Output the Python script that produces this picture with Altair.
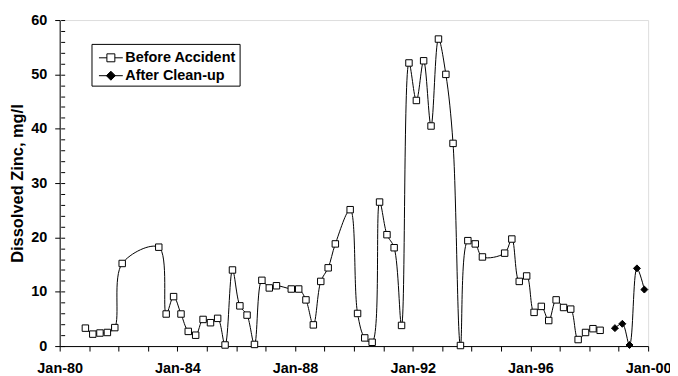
import altair as alt
import pandas as pd

# ---- data ----
before_dates = [
    "1980-11-15", "1981-02-15", "1981-05-15", "1981-08-15", "1981-11-15",
    "1982-02-15", "1983-05-15", "1983-08-15", "1983-11-15", "1984-02-15",
    "1984-05-15", "1984-08-15", "1984-11-15", "1985-02-15", "1985-05-15",
    "1985-08-15", "1985-11-15", "1986-02-15", "1986-05-15", "1986-08-15",
    "1986-11-15", "1987-02-15", "1987-05-15", "1987-11-15", "1988-02-15",
    "1988-05-15", "1988-08-15", "1988-11-15", "1989-02-15", "1989-05-15",
    "1989-11-15", "1990-02-15", "1990-05-15", "1990-08-15", "1990-11-15",
    "1991-02-15", "1991-05-15", "1991-08-15", "1991-11-15", "1992-02-15",
    "1992-05-15", "1992-08-15", "1992-11-15", "1993-02-15", "1993-05-15",
    "1993-08-15", "1993-11-15", "1994-02-15", "1994-05-15", "1995-02-15",
    "1995-05-15", "1995-08-15", "1995-11-15", "1996-02-15", "1996-05-15",
    "1996-08-15", "1996-11-15", "1997-02-15", "1997-05-15", "1997-08-15",
    "1997-11-15", "1998-02-15", "1998-05-15",
]
before_vals = [
    3.3, 2.2, 2.4, 2.5, 3.4,
    15.2, 18.2, 5.9, 9.1, 5.9,
    2.7, 2.0, 4.9, 4.3, 5.1,
    0.2, 14.0, 7.4, 5.7, 0.3,
    12.1, 10.7, 11.1, 10.5, 10.5,
    8.5, 3.9, 11.9, 14.4, 18.8,
    25.1, 6.0, 1.5, 0.7, 26.5,
    20.5, 18.1, 3.8, 52.1, 45.2,
    52.5, 40.5, 56.5, 50.0, 37.3,
    0.1, 19.4, 18.8, 16.4, 17.1,
    19.7, 11.9, 12.9, 6.2, 7.3,
    4.7, 8.5, 7.1, 6.8, 1.2,
    2.5, 3.2, 2.9,
]
after_dates = ["1998-11-15", "1999-02-15", "1999-05-15", "1999-08-15", "1999-11-15"]
after_vals = [3.3, 4.1, 0.2, 14.3, 10.4]

series_names = ["Before Accident", "After Clean-up"]
y_major = [0, 10, 20, 30, 40, 50, 60]
y_minor = list(range(0, 61, 2))
x_years = list(range(1980, 2001))

df = pd.DataFrame({
    "date": before_dates + after_dates,
    "zinc": before_vals + after_vals,
    "series": [series_names[0]] * len(before_dates) + [series_names[1]] * len(after_dates),
})

FONT = "Liberation Sans"
x_domain = [alt.DateTime(year=1980, month=1, date=1, utc=True),
            alt.DateTime(year=2000, month=1, date=1, utc=True)]
x_values = [alt.DateTime(year=y, month=1, date=1, utc=True) for y in x_years]

x_enc = alt.X(
    "date:T",
    scale=alt.Scale(type="utc", domain=x_domain, nice=False),
    axis=alt.Axis(
        values=x_values,
        labelExpr="utcyear(datum.value) % 4 === 0 ? utcFormat(datum.value, '%b-%y') : ''",
        title=None, grid=False, tickSize=5, tickColor="black", domainColor="black",
        labelFont=FONT, labelFontSize=14.5, labelFontWeight="bold", labelColor="black",
        labelPadding=11, labelOverlap=False, labelFlush=False,
    ),
)

y_scale = alt.Scale(domain=[0, 60], nice=False)

# legend symbols: a short line with the marker in its middle
before_path = ("M-0.619,0L0.143,0M0.905,0L1.667,0"
               "M0.143,-0.381L0.905,-0.381L0.905,0.381L0.143,0.381Z")
after_path = "M-0.619,0L1.667,0M0.524,-0.43L0.954,0L0.524,0.43L0.094,0Z"

lines = alt.Chart(df).mark_line(interpolate="catmull-rom", color="black", strokeWidth=1).encode(
    x=x_enc,
    y=alt.Y("zinc:Q", scale=y_scale, axis=alt.Axis(
        values=y_major, orient="left", title="Dissolved Zinc, mg/l", grid=False,
        tickSize=5, tickColor="black", domainColor="black",
        labelFont=FONT, labelFontSize=14.5, labelFontWeight="bold", labelColor="black",
        labelPadding=8, titleFont=FONT, titleFontSize=16.5, titleFontWeight="bold",
        titleColor="black", titlePadding=5,
    )),
    detail="series:N",
)

points = alt.Chart(df).mark_point(filled=False, stroke="black", strokeWidth=1, opacity=1).encode(
    x=x_enc,
    y=alt.Y("zinc:Q", scale=y_scale, axis=alt.Axis(
        values=y_minor, orient="left", offset=-5, tickSize=4, tickColor="black",
        domain=False, labels=False, title=None, grid=False,
    )),
    shape=alt.Shape("series:N", scale=alt.Scale(domain=series_names, range=["square", "diamond"]), legend=None),
    size=alt.Size("series:N", scale=alt.Scale(domain=series_names, range=[42, 49]), legend=None),
    fill=alt.Fill("series:N", scale=alt.Scale(domain=series_names, range=["white", "black"]), legend=None),
)

legend_props = dict(
    title=None, orient="none", legendX=32, legendY=24, direction="vertical",
    fillColor="white", strokeColor="black", padding=3, rowPadding=0,
    labelFont=FONT, labelFontSize=14.5, labelFontWeight="bold", labelColor="black",
    labelOffset=9, symbolSize=441, symbolStrokeColor="black", symbolStrokeWidth=1,
    symbolOpacity=1,
)

# legend-only layer: no rows pass the filter, the explicit domain keeps the legend
legend_layer = alt.Chart(df).mark_point(filled=False, strokeWidth=1, opacity=1).encode(
    x=x_enc,
    y=alt.Y("zinc:Q", scale=y_scale, axis=None),
    shape=alt.Shape("series:N", scale=alt.Scale(domain=series_names, range=[before_path, after_path]),
                    legend=alt.Legend(**legend_props)),
    fill=alt.Fill("series:N", scale=alt.Scale(domain=series_names, range=["white", "black"]),
                  legend=alt.Legend(**legend_props)),
    stroke=alt.Stroke("series:N", scale=alt.Scale(domain=series_names, range=["black", "black"]),
                      legend=alt.Legend(**legend_props)),
).transform_filter("false")

chart = alt.layer(legend_layer, lines, points).resolve_axis(y="independent").resolve_scale(
    shape="independent", fill="independent", size="independent", stroke="independent"
).properties(
    width=592, height=328,
    autosize=alt.AutoSizeParams(type="none"),
    padding={"left": 52, "top": 11, "right": 22, "bottom": 29},
).configure_view(stroke="#a0a0a0", strokeWidth=1).configure(font=FONT)

chart.save("out.html", embed_options={"renderer": "svg", "actions": False})
